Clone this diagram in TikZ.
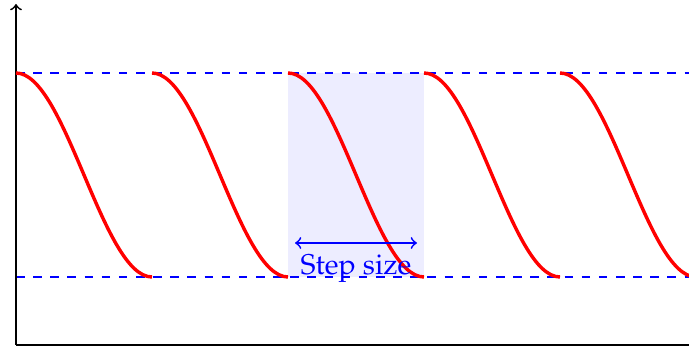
\documentclass[tikz,border=0pt]{standalone}
\usepackage[T1]{fontenc}
\usepackage{mathpazo}
\begin{document}
\begin{tikzpicture}[x=0.35pt,y=0.35pt]
\clip (0,0) rectangle (689,352);
% one step shaded
\fill[blue!7] (288,75) rectangle (424,279);
% upper and lower levels
\draw[blue,dashed,semithick] (16,279) -- (689,279);
\draw[blue,dashed,semithick] (16,75) -- (689,75);
% axes
\draw[semithick,->] (16,7) -- (16,348);
\draw[semithick,->] (16,7) -- (720,7);
% falling segments, one per step
\foreach \s in {0,...,4}{
  \pgfmathsetmacro{\xa}{16+136*\s}
  \draw[red,very thick] (\xa,279) .. controls (\xa+49.5,279) and (\xa+86.5,75) .. (\xa+136,75);
}
% step size marker
\coordinate (stepL) at (295,109);
\coordinate (stepR) at (417,109);
\draw[blue,semithick,<->] (stepL) -- (stepR);
\node[blue,anchor=base] (steplabel) at (356,77) {Step size};
\end{tikzpicture}
\end{document}
